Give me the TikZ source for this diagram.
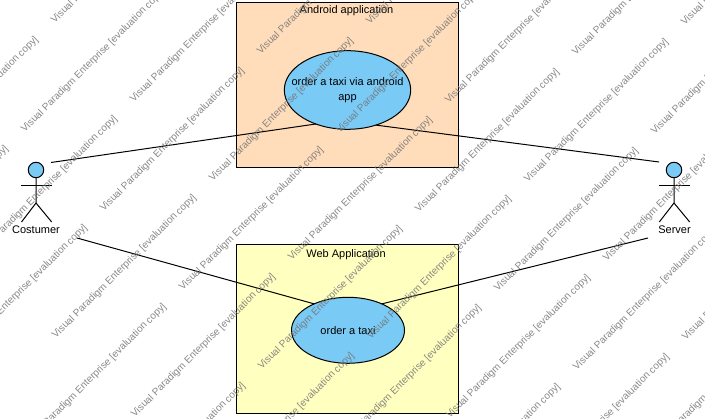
\documentclass[tikz,border=0pt]{standalone}
\usepackage{fontspec}
\setmainfont{Liberation Sans}
\usetikzlibrary{shapes.geometric}
\definecolor{casefill}{RGB}{122,202,246}
\definecolor{androidfill}{RGB}{255,221,187}
\definecolor{webfill}{RGB}{255,255,192}
\tikzset{
  sysbox/.style={draw,line width=1pt,inner sep=0pt,outer sep=0pt},
  usecase/.style={ellipse,draw,line width=1pt,fill=casefill,inner sep=-30pt,outer sep=0pt,align=center,font=\fontsize{11}{15}\selectfont},
  caption/.style={inner sep=0pt,font=\fontsize{11}{13}\selectfont},
  stamp/.style={rotate=45,anchor=west,inner sep=0pt,text=black!55,text opacity=.85,font=\fontsize{10}{12}\selectfont},
  assoc/.style={line width=1pt}
}
% one watermark text, left out when it lies wholly off the page
\newcommand{\stampat}[3]{%
  \pgfmathtruncatemacro{\onpage}{and(and(#1<705,#1>-150),and(#2>0,#2<570))*not(and(#1<-90,#2>300))}%
  \ifnum\onpage=1 \node at (#1,#2)[stamp] (#3) {Visual Paradigm Enterprise [evaluation copy]};\fi}
\begin{document}
\begin{tikzpicture}[x=1pt,y=-1pt]
\useasboundingbox (0,0) rectangle (705,419);
\clip (0,0) rectangle (705,419);
\node at (347.5,85.2)[sysbox,fill=androidfill,minimum width=222pt,minimum height=165.5pt] (Android) {};
\node at (347.5,329.5)[sysbox,fill=webfill,minimum width=222pt,minimum height=169pt] (Web) {};
\node at (346.5,11)[caption] (AndroidT) {Android application};
\node at (346,254.5)[caption] (WebT) {Web Application};
\node at (347.5,90)[usecase,minimum width=126.4pt,minimum height=78.6pt] (AppCase) {order a taxi via android\\app};
\node at (348,330.3)[usecase,minimum width=113pt,minimum height=66pt] (TaxiCase) {order a taxi};
% actors
\node at (36,170)[circle,draw,line width=1pt,fill=casefill,minimum size=15.5pt,inner sep=0pt,outer sep=0pt] (CHead) {};
\node at (674,170)[circle,draw,line width=1pt,fill=casefill,minimum size=15.5pt,inner sep=0pt,outer sep=0pt] (SHead) {};
\coordinate (CHip) at (36,203);
\coordinate (SHip) at (674,203);
\coordinate (CArmL) at (21.3,186);
\coordinate (CArmR) at (51.7,186);
\coordinate (SArmL) at (659.3,186);
\coordinate (SArmR) at (689.7,186);
\coordinate (CLegL) at (21.5,222);
\coordinate (CLegR) at (51.7,222);
\coordinate (SLegL) at (659.3,222);
\coordinate (SLegR) at (689.7,222);
\draw[assoc] (CHead) -- (CHip) -- (CLegL);
\draw[assoc] (CHip) -- (CLegR);
\draw[assoc] (CArmL) -- (CArmR);
\draw[assoc] (SHead) -- (SHip) -- (SLegL);
\draw[assoc] (SHip) -- (SLegR);
\draw[assoc] (SArmL) -- (SArmR);
\node at (36,230)[caption] (C) {Costumer};
\node at (674.5,230)[caption] (S) {Server};
\coordinate (CUp) at (51,162.5);
\coordinate (CDown) at (77,238);
\coordinate (SUp) at (659,162);
\coordinate (SDown) at (648,238);
\draw[assoc] (CUp) -- (AppCase.227);
\draw[assoc] (SUp) -- (AppCase.309);
\draw[assoc] (CDown) -- (TaxiCase.142);
\draw[assoc] (SDown) -- (TaxiCase.38.5);
% watermark
\foreach \j in {-3,...,5}
  \foreach \i in {-2,...,4}{
    \pgfmathsetmacro{\xa}{23+79*\j+236*\i}
    \pgfmathsetmacro{\xb}{132+79*\j+236*\i}
    \pgfmathsetmacro{\ya}{131+79*\j-78*\i}
    \pgfmathsetmacro{\yb}{101+79*\j-78*\i}
    \stampat{\xa}{\ya}{StampA\j\i}
    \stampat{\xb}{\yb}{StampB\j\i}
  }
\end{tikzpicture}
\end{document}
